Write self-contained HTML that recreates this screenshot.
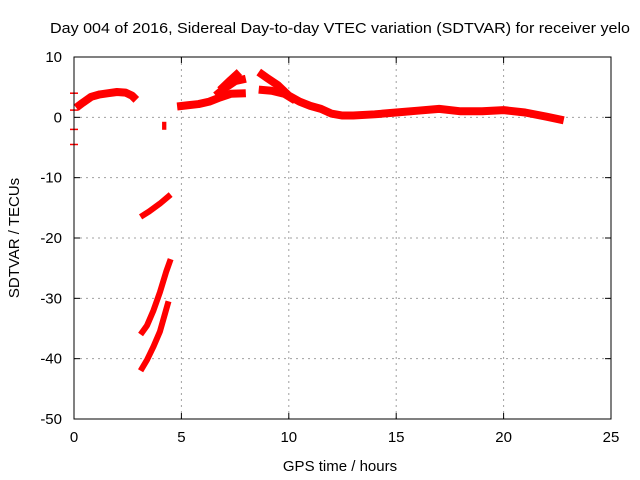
<!DOCTYPE html>
<html><head><meta charset="utf-8"><style>
html,body{margin:0;padding:0;background:#fff}
svg{display:block;font-family:"Liberation Sans",sans-serif}
</style></head><body>
<svg id="chart" width="640" height="480">
<text x="340" y="33" font-size="15" text-anchor="middle" textLength="580" lengthAdjust="spacingAndGlyphs">Day 004 of 2016, Sidereal Day-to-day VTEC variation (SDTVAR) for receiver yelo</text>
<text x="340" y="471" font-size="15" text-anchor="middle">GPS time / hours</text>
<text x="19" y="238" font-size="15" text-anchor="middle" transform="rotate(-90 19 238)">SDTVAR / TECUs</text>
<g id="grid"></g><g id="ticks"></g><g id="series"></g>
<rect x="74" y="57" width="537" height="362" fill="none" stroke="#000" stroke-width="1"/>
</svg>
<script>
const xTicks=[0,5,10,15,20,25];
const yTicks=[10,0,-10,-20,-30,-40,-50];
const segA=[[0.1,1.6],[0.4,2.4],[0.8,3.4],[1.2,3.8],[1.6,4.0],[2.0,4.2],[2.4,4.1],[2.7,3.6],[2.9,2.9]];
const segB=[[4.1,-1.4],[4.3,-1.4]];
const segC=[[4.8,1.8],[5.3,2.0],[5.8,2.2],[6.3,2.6],[6.8,3.3],[7.3,3.9],[8.0,4.0]];
const segC2=[[6.6,3.6],[7.0,4.8],[7.5,6.0],[8.0,6.4]];
const segC3=[[6.8,4.5],[7.3,6.2],[7.7,7.5]];
const segD=[[8.6,7.5],[9.0,6.5],[9.5,5.3],[10.0,3.6],[10.5,2.6],[11.0,1.9],[11.5,1.4],[12.0,0.6],[12.5,0.3],[13.0,0.3],[14.0,0.5],[15.0,0.8],[16.0,1.1],[17.0,1.4],[18.0,1.0],[19.0,1.0],[20.0,1.2],[21.0,0.8],[22.0,0.1],[22.8,-0.5]];
const segD2=[[8.6,4.6],[9.2,4.4],[9.8,3.9],[10.3,2.8]];
const segE=[[3.1,-16.5],[3.5,-15.6],[4.0,-14.3],[4.5,-12.8]];
const segF=[[3.1,-36.0],[3.4,-34.5],[3.7,-32.0],[4.0,-29.0],[4.3,-25.5],[4.5,-23.5]];
const segG=[[3.1,-42.0],[3.4,-40.2],[3.7,-38.0],[4.0,-35.5],[4.2,-33.0],[4.4,-30.5]];
const edgeMarks=[4.0,1.2,-2.0,-4.5];
const xs=h=>74+h*(537/25);
const ys=v=>57+(10-v)*(362/60);
const NS="http://www.w3.org/2000/svg";
const grid=document.getElementById('grid'),ticks=document.getElementById('ticks'),ser=document.getElementById('series');
function mk(tag,attrs,parent){const e=document.createElementNS(NS,tag);for(const k in attrs)e.setAttribute(k,attrs[k]);parent.appendChild(e);return e;}
xTicks.forEach(t=>{const x=xs(t);
 if(t>0&&t<25){const l=mk('line',{x1:x,y1:57,x2:x,y2:419,stroke:'#a0a0a0','stroke-dasharray':'2,4'},grid);
 
 }
 mk('line',{x1:x,y1:419,x2:x,y2:413,stroke:'#000'},ticks);mk('line',{x1:x,y1:57,x2:x,y2:63,stroke:'#000'},ticks);
 const tx=mk('text',{x:x,y:442,'font-size':15,'text-anchor':'middle'},ticks);tx.textContent=t;
 
 });
yTicks.forEach(t=>{const y=ys(t);
 if(t<10&&t>-50){const l=mk('line',{x1:74,y1:y,x2:611,y2:y,stroke:'#a0a0a0','stroke-dasharray':'2,4'},grid);
 
 }
 mk('line',{x1:74,y1:y,x2:80,y2:y,stroke:'#000'},ticks);mk('line',{x1:611,y1:y,x2:605,y2:y,stroke:'#000'},ticks);
 const tx=mk('text',{x:62,y:y+5,'font-size':15,'text-anchor':'end'},ticks);tx.textContent=t;
 
 });
edgeMarks.forEach(v=>{const m=mk('line',{x1:70,y1:ys(v),x2:78,y2:ys(v),stroke:'#f00','stroke-width':1.5},ser);
 
 });
[segA,segB,segC,segC2,segC3,segD,segD2].forEach(s=>{
 const p=mk('polyline',{points:s.map(d=>xs(d[0])+','+ys(d[1])).join(' '),fill:'none',stroke:'#f00','stroke-width':8,'stroke-linejoin':'round'},ser);
 
 });
[segE,segF,segG].forEach(s=>{
 const p=mk('polyline',{points:s.map(d=>xs(d[0])+','+ys(d[1])).join(' '),fill:'none',stroke:'#f00','stroke-width':6,'stroke-linejoin':'round'},ser);
 
 });
</script>
</body></html>
